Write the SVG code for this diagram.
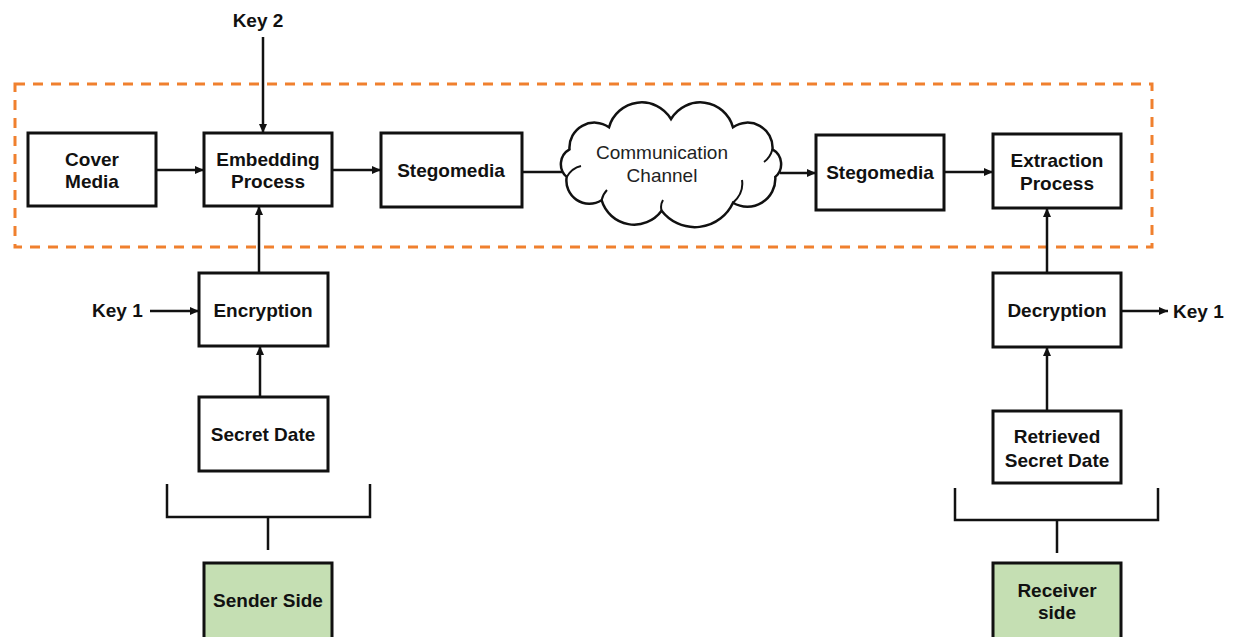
<svg xmlns="http://www.w3.org/2000/svg" width="1233" height="637" viewBox="0 0 1233 637">
  <defs>
    <marker id="arrow" markerUnits="userSpaceOnUse" markerWidth="9" markerHeight="8" refX="9" refY="4" orient="auto">
      <path d="M0,0 L9,4 L0,8 z" fill="#111"/>
    </marker>
    <style>
      .box { fill: #fff; stroke: #111; stroke-width: 3; }
      .side { fill: #c5dfb3; stroke: #111; stroke-width: 3; }
      .lbl { font-family: "Liberation Sans", Arial, sans-serif; font-size: 19px; font-weight: bold; fill: #111; text-anchor: middle; }
      .key { font-family: "Liberation Sans", Arial, sans-serif; font-size: 19px; font-weight: bold; fill: #111; }
      .cloudtxt { font-family: "Liberation Sans", Arial, sans-serif; font-size: 19px; fill: #222; text-anchor: middle; }
      .conn { fill: none; stroke: #111; stroke-width: 2.5; }
      .arr { marker-end: url(#arrow); }
      .zone { fill: none; stroke: #f0802e; stroke-width: 3; stroke-dasharray: 10 8; }
    </style>
  </defs>

  <rect width="1233" height="637" fill="#fff"/>

  <!-- stego channel region -->
  <rect id="region" class="zone" x="15" y="84" width="1137" height="163"/>

  <g id="connectors">
    <line class="conn arr" x1="156" y1="170" x2="204" y2="170"/>
    <line class="conn arr" x1="263" y1="37" x2="263" y2="133"/>
    <line class="conn arr" x1="259" y1="273" x2="259" y2="206"/>
    <line class="conn arr" x1="150" y1="311" x2="199" y2="311"/>
    <line class="conn arr" x1="260" y1="397" x2="260" y2="346"/>
    <line class="conn arr" x1="332" y1="170" x2="381" y2="170"/>
    <line class="conn" x1="522" y1="172" x2="562" y2="172"/>
    <line class="conn arr" x1="780" y1="173" x2="816" y2="173"/>
    <line class="conn arr" x1="944" y1="172" x2="993" y2="172"/>
    <line class="conn arr" x1="1047" y1="273" x2="1047" y2="208"/>
    <line class="conn arr" x1="1047" y1="411" x2="1047" y2="347"/>
    <line class="conn arr" x1="1121" y1="311" x2="1168" y2="311"/>
    <!-- side brackets -->
    <path class="conn" d="M167,484 V517 H370 V484 M268,517 V550"/>
    <path class="conn" d="M955,488 V520 H1158 V488 M1057,520 V553"/>
  </g>

  <g id="key2"><text class="lbl" x="258" y="27">Key 2</text></g>
  <g id="key1-in"><text class="key" x="92" y="317">Key 1</text></g>
  <g id="key1-out"><text class="key" x="1173" y="318">Key 1</text></g>

  <g id="cover-media">
    <rect class="box" x="28" y="133" width="128" height="73"/>
    <text class="lbl" x="92" y="166">Cover</text>
    <text class="lbl" x="92" y="188">Media</text>
  </g>

  <g id="embedding">
    <rect class="box" x="204" y="133" width="128" height="73"/>
    <text class="lbl" x="268" y="166">Embedding</text>
    <text class="lbl" x="268" y="188">Process</text>
  </g>

  <g id="stegomedia-send">
    <rect class="box" x="381" y="133" width="141" height="74"/>
    <text class="lbl" x="451" y="177">Stegomedia</text>
  </g>

  <g id="channel">
    <path fill="#fff" stroke="#111" stroke-width="2.5" d="M566.7,176.9 A17,17 0 0 1 569.5,149.3 A25,25 0 0 1 609,127.3 A34,34 0 0 1 671,119 A34,34 0 0 1 733,127.3 A25,25 0 0 1 772.5,149.3 A17,17 0 0 1 775.3,176.9 A28,28 0 0 1 733,202.7 A42,42 0 0 1 661.6,210.8 A34,34 0 0 1 601.6,200.2 A23,23 0 0 1 566.7,176.9 Z"/>
    <path fill="none" stroke="#111" stroke-width="2" d="M566.7,176.9 Q572,168 581,166 M601.6,200.2 Q603,194 607,190 M733,202.7 Q744,193 742,180 M772.5,149.3 Q770,158 764,162 M661.6,210.8 Q660,205 663,200"/>
    <text class="cloudtxt" x="662" y="159">Communication</text>
    <text class="cloudtxt" x="662" y="182">Channel</text>
  </g>

  <g id="stegomedia-recv">
    <rect class="box" x="816" y="135" width="128" height="75"/>
    <text class="lbl" x="880" y="179">Stegomedia</text>
  </g>

  <g id="extraction">
    <rect class="box" x="993" y="134" width="128" height="74"/>
    <text class="lbl" x="1057" y="167">Extraction</text>
    <text class="lbl" x="1057" y="190">Process</text>
  </g>

  <g id="encryption">
    <rect class="box" x="199" y="273" width="129" height="73"/>
    <text class="lbl" x="263" y="317">Encryption</text>
  </g>

  <g id="secret-data">
    <rect class="box" x="199" y="397" width="129" height="74"/>
    <text class="lbl" x="263" y="441">Secret Date</text>
  </g>

  <g id="decryption">
    <rect class="box" x="993" y="273" width="128" height="74"/>
    <text class="lbl" x="1057" y="317">Decryption</text>
  </g>

  <g id="retrieved">
    <rect class="box" x="993" y="411" width="128" height="72"/>
    <text class="lbl" x="1057" y="443">Retrieved</text>
    <text class="lbl" x="1057" y="467">Secret Date</text>
  </g>

  <g id="sender-side">
    <rect class="side" x="204" y="563" width="128" height="80"/>
    <text class="lbl" x="268" y="607">Sender Side</text>
  </g>

  <g id="receiver-side">
    <rect class="side" x="993" y="563" width="128" height="80"/>
    <text class="lbl" x="1057" y="597">Receiver</text>
    <text class="lbl" x="1057" y="619">side</text>
  </g>
</svg>
